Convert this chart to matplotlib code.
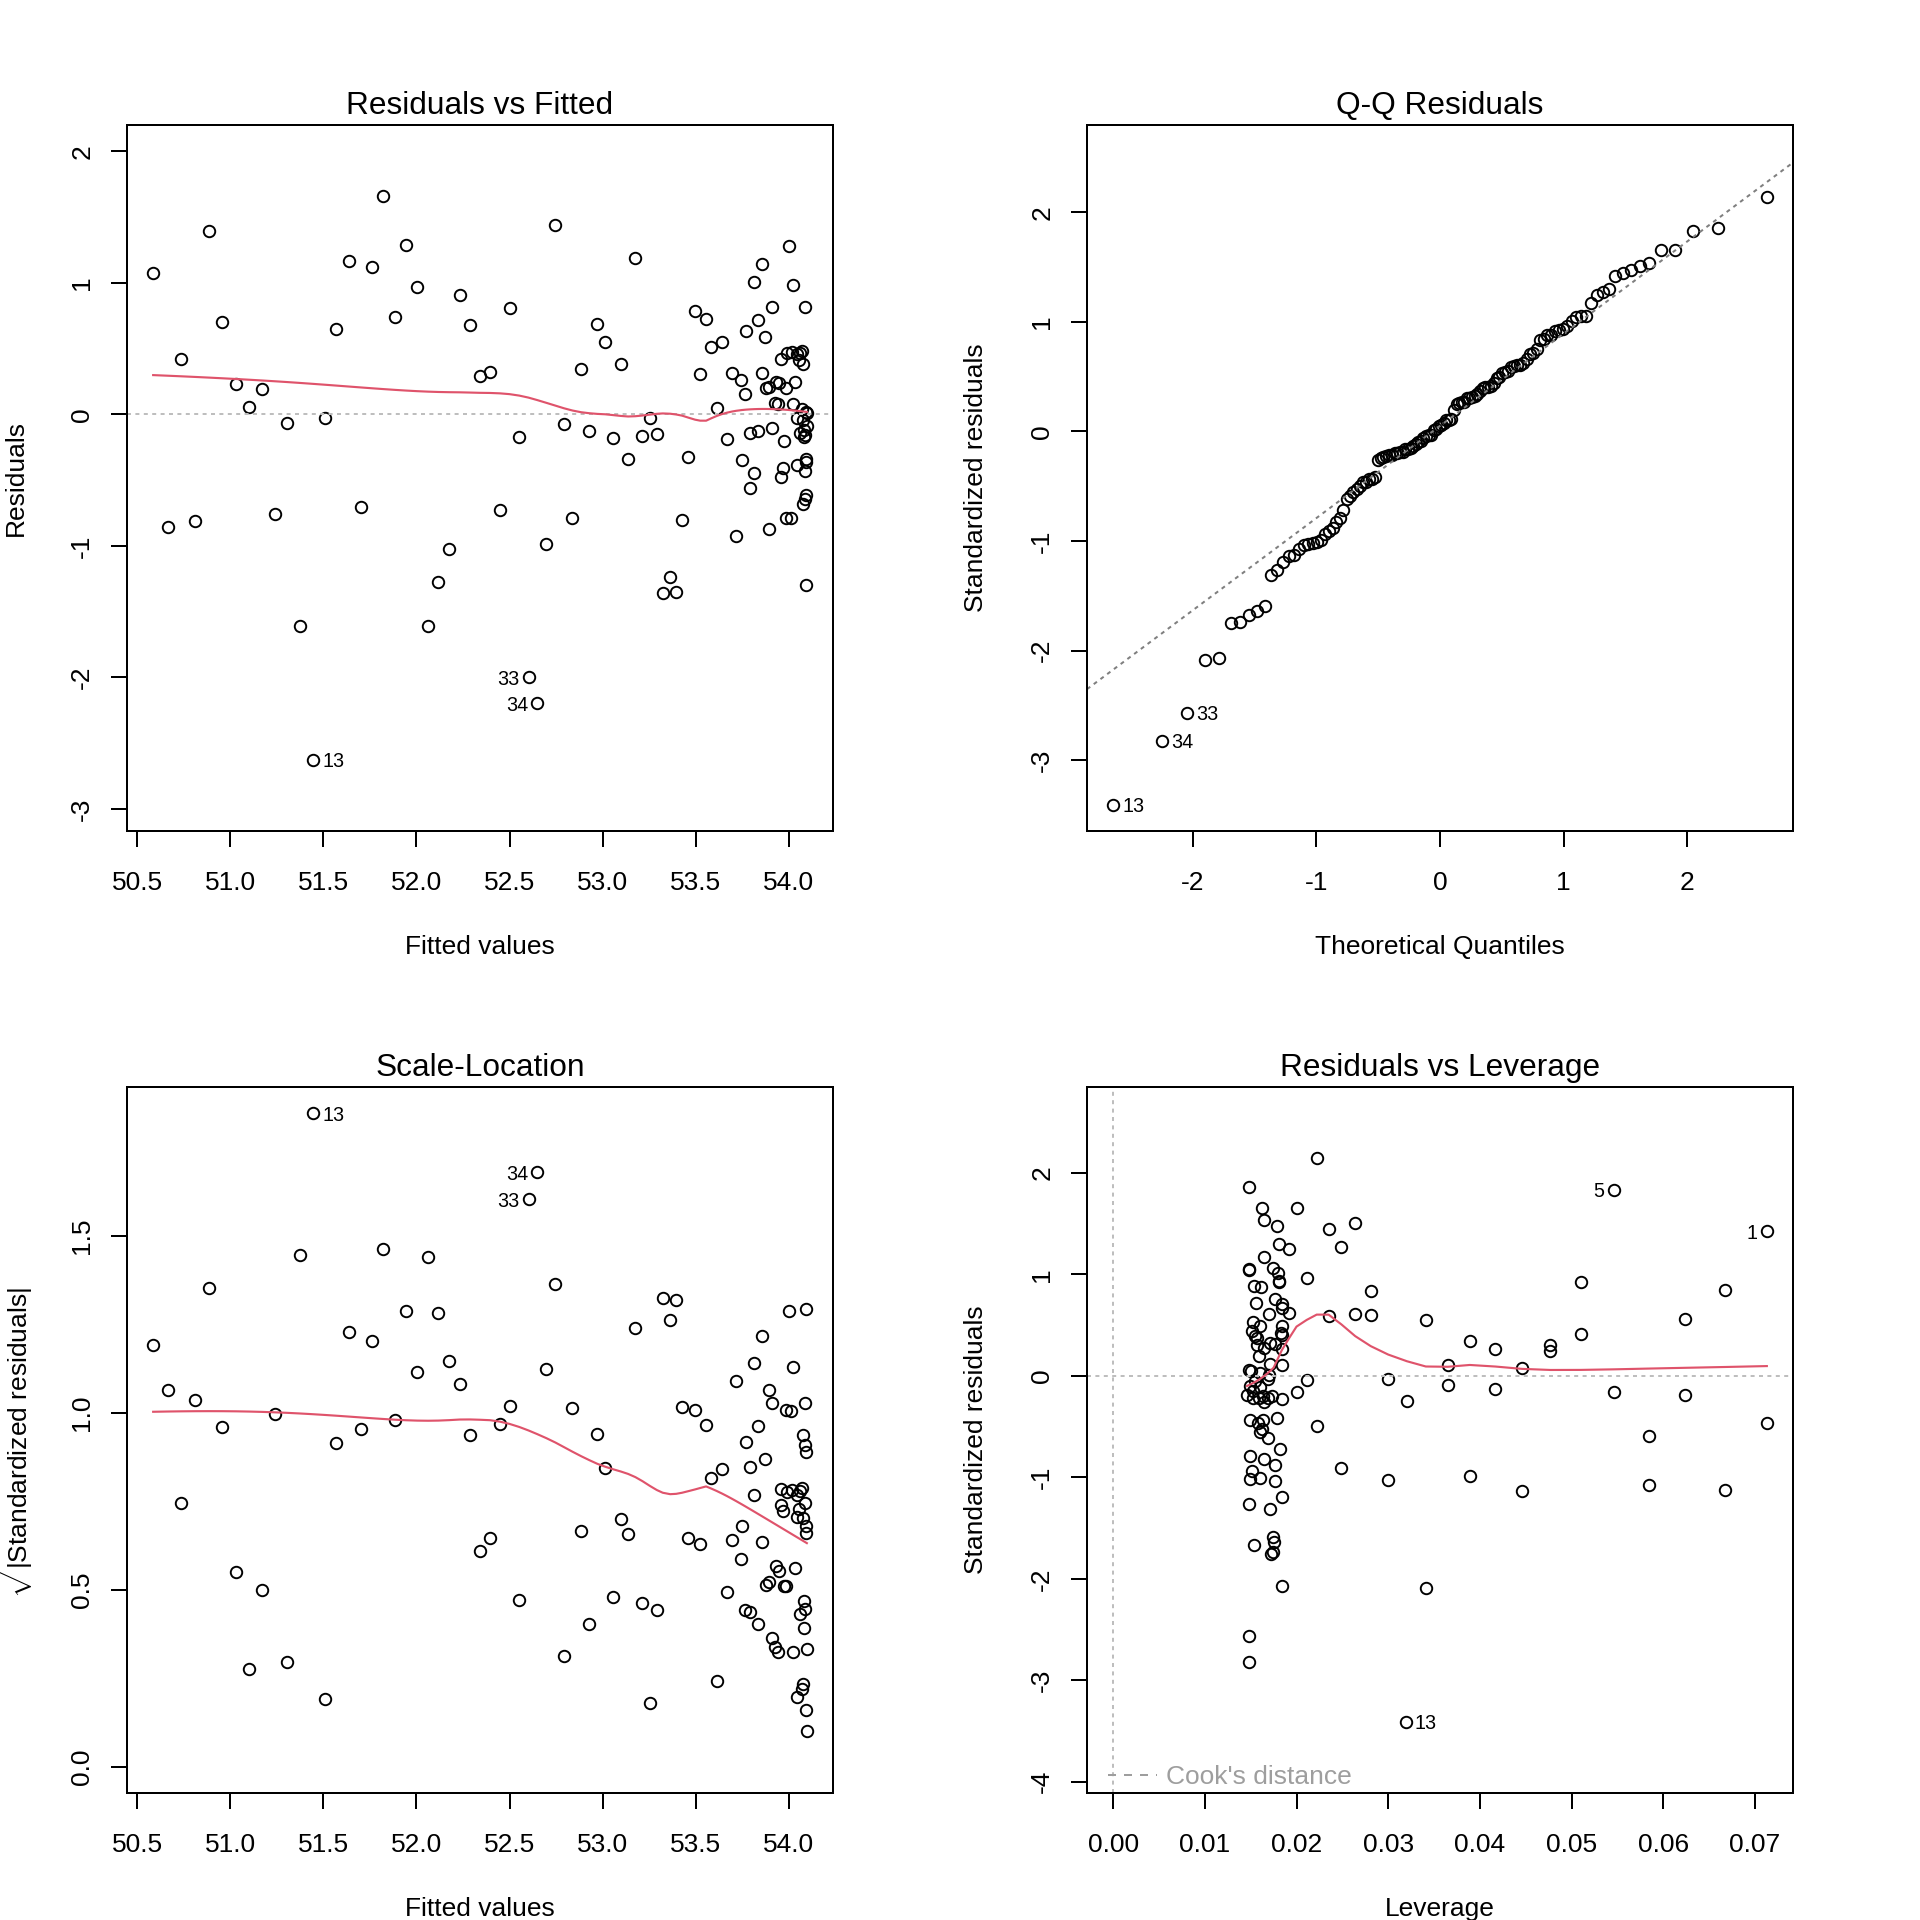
import numpy as np
import matplotlib
matplotlib.use("Agg")
import matplotlib.pyplot as plt
from matplotlib.ticker import MultipleLocator, FormatStrFormatter
from matplotlib.lines import Line2D
from statistics import NormalDist

plt.rcParams['font.family'] = ['Liberation Sans', 'DejaVu Sans']
plt.rcParams['axes.unicode_minus'] = False
plt.rcParams['mathtext.fontset'] = 'custom'
plt.rcParams['mathtext.rm'] = 'Liberation Sans'
plt.rcParams['mathtext.it'] = 'Liberation Sans:italic'

# ---------------- data (one entry per observation, in row order) ----------------
fitted = [50.586, 50.738, 50.958, 51.030, 50.885, 51.170, 51.100, 51.307, 51.508, 51.570,
          51.637, 51.762, 51.444, 51.823, 51.945, 51.886, 52.005, 52.233, 52.288, 52.340,
          52.396, 52.500, 52.552, 52.747, 52.793, 52.885, 52.929, 52.972, 53.013, 53.056,
          53.098, 53.137, 52.602, 52.650, 53.176, 53.214, 53.255, 53.291,
          53.461, 53.427, 53.363, 53.323, 53.395, 53.497, 53.556, 53.583, 53.640, 53.524,
          53.613, 53.667, 53.717, 53.694, 53.744, 53.767, 53.748, 53.815, 53.790, 53.771,
          53.832, 53.873, 53.812, 53.855, 53.910, 54.000, 54.023, 54.089, 53.792, 53.837,
          53.857, 53.878, 53.896, 53.932, 53.946, 53.985, 54.034, 53.926, 53.944, 54.023,
          53.912, 53.975, 53.959, 53.989, 54.016, 54.043, 54.070, 54.057, 54.075, 54.070,
          54.097, 54.043, 54.078, 54.097, 54.061, 54.083, 54.088, 54.092, 54.043, 54.087,
          53.971, 53.959, 54.092, 54.078, 53.985, 54.012, 53.896, 54.092,
          52.449, 52.698, 52.838,
          50.665, 50.813, 51.240, 51.700, 52.176, 52.118, 52.063, 51.374,
          54.080, 54.095, 54.060, 54.085, 54.090]

residuals = [1.073, 0.421, 0.703, 0.231, 1.395, 0.190, 0.058, -0.068, -0.028, 0.647,
             1.164, 1.119, -2.626, 1.659, 1.286, 0.743, 0.966, 0.908, 0.682, 0.289,
             0.325, 0.809, -0.172, 1.444, -0.076, 0.345, -0.127, 0.685, 0.553, -0.178,
             0.380, -0.337, -1.996, -2.194, 1.192, -0.167, -0.025, -0.152,
             -0.325, -0.801, -1.235, -1.360, -1.349, 0.786, 0.725, 0.515, 0.548, 0.307,
             0.046, -0.188, -0.923, 0.312, 0.264, 0.152, -0.348, -0.449, -0.558, 0.637,
             0.718, 0.586, 1.010, 1.147, 0.820, 1.284, 0.984, 0.820, -0.145, -0.124,
             0.312, 0.203, 0.211, 0.249, 0.238, 0.203, 0.246, 0.089, 0.081, 0.081,
             -0.101, -0.203, 0.421, 0.464, 0.472, 0.457, 0.482, 0.413, 0.383, 0.038,
             0.008, -0.030, -0.043, -0.086, -0.145, -0.170, -0.155, -0.340, -0.386, -0.431,
             -0.406, -0.479, -0.614, -0.683, -0.791, -0.784, -0.868, -1.299,
             -0.728, -0.982, -0.791,
             -0.855, -0.814, -0.761, -0.703, -1.020, -1.273, -1.606, -1.606,
             -0.120, 0.020, 0.470, -0.640, -0.360]

leverage = [.0713, .0624, .0510, .0477, .0546, .0477, .0446, .0365, .0300, .0281,
            .0264, .0235, .0319, .0222, .0162, .0211, .0192, .0165, .0161, .0157,
            .0183, .0148, .0152, .0148, .0149, .0151, .0200, .0154, .0156, .0184,
            .0184, .0163, .0148, .0148, .0164, .0169, .0169, .0173,
            .0179, .0177, .0174, .0172, .0174, .0180, .0181, .0184, .0184, .0155,
            .0148, .0320, .0184, .0510, .0389, .0159, .0713, .0584, .0182, .0667,
            .0181, .0177, .0181, .0179, .0148, .0200, .0249, .0174, .0624, .0546,
            .0184, .0417, .0164, .0171, .0157, .0184, .0177, .0171, .0365, .0184,
            .0417, .0165, .0341, .0281, .0264, .0235, .0192, .0152, .0160, .0150,
            .0170, .0211, .0155, .0160, .0146, .0159, .0163, .0149, .0222, .0160,
            .0162, .0169, .0149, .0177, .0149, .0160, .0446, .0154,
            .0151, .0148, .0300,
            .0667, .0584, .0389, .0249, .0171, .0175, .0184, .0341,
            .0152, .0160, .0170, .0165, .0158]

titles = ["Residuals vs Fitted", "Q-Q Residuals", "Scale-Location", "Residuals vs Leverage"]
xlabels = ["Fitted values", "Theoretical Quantiles", "Fitted values", "Leverage"]
ylabels = ["Residuals", "Standardized residuals",
           r"$\sqrt{|\mathrm{Standardized\ residuals}|}$", "Standardized residuals"]
cook_levels = [0.5, 1.0]

# ---------------- derived statistics (as R's plot.lm does) ----------------
yhat = np.array(fitted)
r = np.array(residuals)
h = np.array(leverage)
n = len(r)
p = int(round(h.sum()))
s = np.sqrt(np.sum(r ** 2) / (n - p))
rs = r / (s * np.sqrt(1 - h))
cook = rs ** 2 * h / (p * (1 - h))
ids = np.arange(1, n + 1)


def _lowest(x, y, n, xs, nleft, nright, userw, rw):
    rng = x[n - 1] - x[0]
    hh = max(xs - x[nleft], x[nright] - xs)
    h9, h1 = 0.999 * hh, 0.001 * hh
    w = np.zeros(n)
    a = 0.0
    j = nleft
    while j < n:
        rr = abs(x[j] - xs)
        if rr <= h9:
            w[j] = 1.0 if rr <= h1 else (1 - (rr / hh) ** 3) ** 3
            if userw:
                w[j] *= rw[j]
            a += w[j]
        elif x[j] > xs:
            break
        j += 1
    nrt = j - 1
    if a <= 0:
        return 0.0, False
    sl = slice(nleft, nrt + 1)
    w[sl] /= a
    if hh > 0:
        a = np.sum(w[sl] * x[sl])
        b = xs - a
        c = np.sum(w[sl] * (x[sl] - a) ** 2)
        if np.sqrt(c) > 0.001 * rng:
            b /= c
            w[sl] *= (b * (x[sl] - a) + 1.0)
    return float(np.sum(w[sl] * y[sl])), True


def lowess(x, y, f=2 / 3, iters=3):
    x = np.asarray(x, float)
    y = np.asarray(y, float)
    o = np.argsort(x, kind="stable")
    x, y = x[o], y[o]
    n = len(x)
    delta = 0.01 * (x[-1] - x[0])
    ns = max(min(int(f * n + 1e-7), n), 2)
    ys = np.zeros(n)
    rw = np.ones(n)
    for it in range(iters + 1):
        nleft, nright, last, i = 0, ns - 1, -1, 0
        while True:
            while nright < n - 1:
                d1 = x[i] - x[nleft]
                d2 = x[nright + 1] - x[i]
                if d1 <= d2:
                    break
                nleft += 1
                nright += 1
            val, ok = _lowest(x, y, n, x[i], nleft, nright, it > 0, rw)
            ys[i] = val if ok else y[i]
            if last < i - 1:
                denom = x[i] - x[last]
                for j in range(last + 1, i):
                    alpha = (x[j] - x[last]) / denom
                    ys[j] = alpha * ys[i] + (1 - alpha) * ys[last]
            last = i
            cut = x[last] + delta
            i = last + 1
            while i < n:
                if x[i] > cut:
                    break
                if x[i] == x[last]:
                    ys[i] = ys[last]
                    last = i
                i += 1
            i = max(last + 1, i - 1)
            if last >= n - 1:
                break
        res = y - ys
        if it >= iters:
            break
        ar = np.abs(res)
        sc = ar.sum() / n
        srt = np.sort(ar)
        m1 = n // 2
        cmad = 3 * (srt[m1 - 1] + srt[m1]) if n % 2 == 0 else 6 * srt[m1]
        if cmad < 1e-7 * sc:
            break
        c9, c1 = 0.999 * cmad, 0.001 * cmad
        rw = np.where(ar <= c1, 1.0, np.where(ar <= c9, (1 - (ar / cmad) ** 2) ** 2, 0.0))
    return x, ys


def rpad(lo, hi):
    d = hi - lo
    return lo - 0.04 * d, hi + 0.04 * d


def extendrange(lo, hi, f):
    d = hi - lo
    return lo - f * d, hi + f * d


# ---------------- figure ----------------
RED = "#DF536B"
GRAY = "#BEBEBE"
BASE = 9.9
fig = plt.figure(figsize=(10, 10), dpi=192)
W = 706 / 1920
pos = [(127 / 1920, 1 - 831 / 1920), (1087 / 1920, 1 - 831 / 1920),
       (127 / 1920, 1 - 1793 / 1920), (1087 / 1920, 1 - 1793 / 1920)]
axes = [fig.add_axes([x0, y0, W, W]) for x0, y0 in pos]

mk = dict(marker='o', ls='none', mfc='none', mec='black', ms=4.3, mew=0.72)
dot = (0, (2.0, 2.2))


def style(ax, i):
    for sp in ax.spines.values():
        sp.set_linewidth(0.75)
    ax.tick_params(direction='out', length=5.9, width=0.75, labelsize=BASE, pad=9.2)
    ax.tick_params(axis='y', labelrotation=90, pad=6.4)
    for lab in ax.get_yticklabels():
        lab.set_va('center')
    ax.set_title(titles[i], fontsize=BASE * 1.2, y=1 + 19 / 706, va='center', pad=0)
    ax.set_xlabel(xlabels[i], fontsize=BASE)
    ax.set_ylabel(ylabels[i], fontsize=BASE)
    ax.xaxis.set_label_coords(0.5, -116 / 706)
    ax.xaxis.label.set_va('center')
    ax.yaxis.set_label_coords(-111 / 706, 0.5)
    ax.yaxis.label.set_va('center')


def label_points(ax, xs, ys, labs, xmid):
    for x, y, lab in zip(xs, ys, labs):
        if x < xmid:
            ax.annotate(str(lab), (x, y), xytext=(3.5, -0.8), textcoords='offset points',
                        ha='left', va='center', fontsize=7.4, annotation_clip=False)
        else:
            ax.annotate(str(lab), (x, y), xytext=(-3.5, -0.8), textcoords='offset points',
                        ha='right', va='center', fontsize=7.4, annotation_clip=False)


xl = rpad(yhat.min(), yhat.max())

# 1. Residuals vs Fitted
ax = axes[0]
ax.plot(yhat, r, **mk)
ax.axhline(0, color=GRAY, lw=0.75, ls=dot)
lx, ly = lowess(yhat, r)
ax.plot(lx, ly, color=RED, lw=0.8)
ax.set_xlim(xl)
ax.set_ylim(rpad(*extendrange(r.min(), r.max(), 0.08)))
ax.xaxis.set_major_locator(MultipleLocator(0.5))
ax.xaxis.set_major_formatter(FormatStrFormatter('%.1f'))
ax.yaxis.set_major_locator(MultipleLocator(1))
ax.yaxis.set_major_formatter(FormatStrFormatter('%d'))
show_r = np.argsort(-np.abs(r))[:3]
label_points(ax, yhat[show_r], r[show_r], ids[show_r], np.mean(xl))
style(ax, 0)

# 2. Q-Q
ax = axes[1]
nd = NormalDist()
ppts = (np.arange(1, n + 1) - 0.5) / n
theo_sorted = np.array([nd.inv_cdf(q) for q in ppts])
order = np.argsort(rs, kind='stable')
theo = np.empty(n)
theo[order] = theo_sorted
ax.plot(theo, rs, **mk)
yq = np.quantile(rs, [0.25, 0.75])
xq = np.array([nd.inv_cdf(0.25), nd.inv_cdf(0.75)])
slope = (yq[1] - yq[0]) / (xq[1] - xq[0])
icpt = yq[0] - slope * xq[0]
ax.axline((0, icpt), slope=slope, color="#7F7F7F", lw=0.75, ls=dot)
qyl = (rs.min(), rs.max() + (rs.max() - rs.min()) * 0.075)
qxl = rpad(theo.min(), theo.max())
ax.set_xlim(qxl)
ax.set_ylim(rpad(*qyl))
ax.xaxis.set_major_locator(MultipleLocator(1))
ax.xaxis.set_major_formatter(FormatStrFormatter('%d'))
ax.yaxis.set_major_locator(MultipleLocator(1))
ax.yaxis.set_major_formatter(FormatStrFormatter('%d'))
show_rs = np.argsort(-np.abs(rs))[:3]
label_points(ax, theo[show_rs], rs[show_rs], ids[show_rs], np.mean(qxl))
style(ax, 1)

# 3. Scale-Location
ax = axes[2]
sq = np.sqrt(np.abs(rs))
ax.plot(yhat, sq, **mk)
lx, ly = lowess(yhat, sq)
ax.plot(lx, ly, color=RED, lw=0.8)
ax.set_xlim(xl)
ax.set_ylim(rpad(0, sq.max()))
ax.xaxis.set_major_locator(MultipleLocator(0.5))
ax.xaxis.set_major_formatter(FormatStrFormatter('%.1f'))
ax.yaxis.set_major_locator(MultipleLocator(0.5))
ax.yaxis.set_major_formatter(FormatStrFormatter('%.1f'))
label_points(ax, yhat[show_rs], sq[show_rs], ids[show_rs], np.mean(xl))
style(ax, 2)

# 4. Residuals vs Leverage
ax = axes[3]
ax.plot(h, rs, **mk)
ax.axhline(0, color=GRAY, lw=0.75, ls=dot)
ax.axvline(0, color=GRAY, lw=0.75, ls=dot)
lx, ly = lowess(h, rs)
ax.plot(lx, ly, color=RED, lw=0.8)
hxl = rpad(0, h.max())
ax.set_xlim(hxl)
ax.set_ylim(rpad(*extendrange(rs.min(), rs.max(), 0.08)))
hh = np.linspace(min(h.min(), h.max() / 100), hxl[1], 101)
for crit in cook_levels:
    cl = np.sqrt(crit * p * (1 - hh) / hh)
    ax.plot(hh, cl, color="#9E9E9E", lw=0.75, ls=(0, (4, 4)))
    ax.plot(hh, -cl, color="#9E9E9E", lw=0.75, ls=(0, (4, 4)))
ax.xaxis.set_major_locator(MultipleLocator(0.01))
ax.xaxis.set_major_formatter(FormatStrFormatter('%.2f'))
ax.yaxis.set_major_locator(MultipleLocator(1))
ax.yaxis.set_major_formatter(FormatStrFormatter('%d'))
show_c = np.argsort(-cook)[:3]
label_points(ax, h[show_c], rs[show_c], ids[show_c], np.mean(hxl))
leg = ax.legend([Line2D([], [], color="#9E9E9E", lw=0.75, ls=(0, (4, 4)))], ["Cook's distance"],
                loc='lower left', frameon=False, fontsize=BASE, labelcolor="#9E9E9E",
                handlelength=1.86, handletextpad=0.33, borderaxespad=0.0, borderpad=0.0,
                bbox_to_anchor=(21 / 706, 4 / 706))
style(ax, 3)

fig.savefig("out.png", dpi=192)
